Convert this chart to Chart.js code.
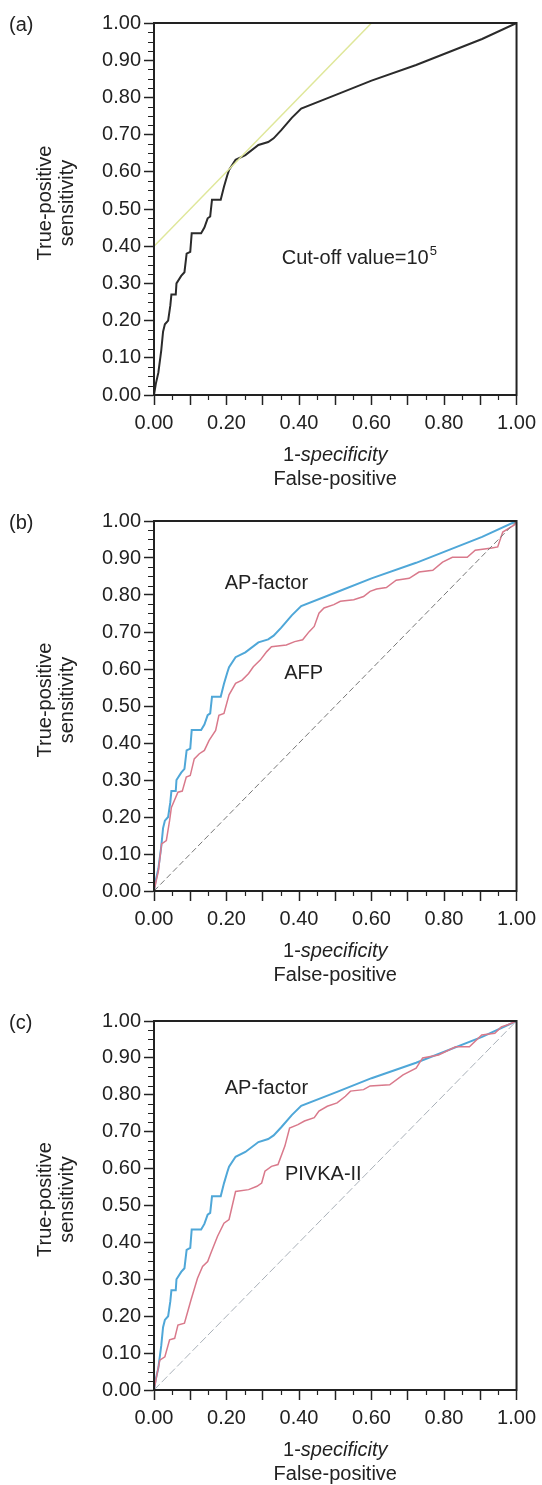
<!DOCTYPE html>
<html>
<head>
<meta charset="utf-8">
<title>ROC curves</title>
<script src="https://cdn.jsdelivr.net/npm/chart.js@4.4.0/dist/chart.umd.min.js"></script>
<style>
  html, body { margin: 0; padding: 0; background: #fff; }
  body { width: 542px; height: 1485px; position: relative; overflow: hidden; }
  canvas { position: absolute; left: 0; }
</style>
</head>
<body>
<canvas id="rocA" width="542" height="498" style="top:0px"></canvas>
<canvas id="rocB" width="542" height="498" style="top:498px"></canvas>
<canvas id="rocC" width="542" height="489" style="top:996px"></canvas>
<script>
// ***************************************************
// Data
// ***************************************************

var apFactorFpr = [0, 0.005, 0.012, 0.02, 0.025, 0.03, 0.039, 0.045, 0.048, 0.06, 0.062, 0.075, 0.084, 0.09, 0.1, 0.104, 0.13, 0.139, 0.148, 0.155, 0.16, 0.184, 0.193, 0.202, 0.207, 0.225, 0.252, 0.288, 0.315, 0.33, 0.351, 0.38, 0.406, 0.505, 0.6, 0.723, 0.905, 1];
var apFactorTpr = [0, 0.03, 0.06, 0.12, 0.17, 0.19, 0.2, 0.24, 0.27, 0.27, 0.3, 0.32, 0.33, 0.38, 0.385, 0.435, 0.435, 0.45, 0.475, 0.48, 0.525, 0.525, 0.56, 0.59, 0.605, 0.632, 0.645, 0.672, 0.68, 0.69, 0.712, 0.745, 0.77, 0.808, 0.845, 0.887, 0.957, 1];

var afpFpr = [0, 0.012, 0.021, 0.034, 0.043, 0.048, 0.066, 0.078, 0.089, 0.1, 0.111, 0.125, 0.139, 0.152, 0.17, 0.179, 0.193, 0.207, 0.225, 0.243, 0.261, 0.274, 0.293, 0.311, 0.324, 0.365, 0.388, 0.41, 0.428, 0.442, 0.455, 0.469, 0.496, 0.514, 0.551, 0.578, 0.596, 0.614, 0.641, 0.668, 0.704, 0.731, 0.769, 0.796, 0.823, 0.864, 0.886, 0.932, 0.948, 0.962, 0.995, 1];
var afpTpr = [0, 0.054, 0.127, 0.136, 0.19, 0.226, 0.267, 0.27, 0.308, 0.312, 0.357, 0.371, 0.38, 0.407, 0.434, 0.475, 0.48, 0.53, 0.561, 0.57, 0.588, 0.606, 0.624, 0.647, 0.66, 0.665, 0.674, 0.679, 0.701, 0.715, 0.751, 0.765, 0.774, 0.783, 0.787, 0.796, 0.81, 0.816, 0.82, 0.84, 0.845, 0.862, 0.867, 0.889, 0.902, 0.902, 0.921, 0.927, 0.93, 0.97, 0.99, 1];

var pivkaFpr = [0, 0.007, 0.016, 0.03, 0.043, 0.057, 0.066, 0.084, 0.102, 0.12, 0.134, 0.148, 0.157, 0.175, 0.193, 0.207, 0.225, 0.261, 0.284, 0.297, 0.306, 0.324, 0.342, 0.361, 0.374, 0.397, 0.415, 0.442, 0.455, 0.478, 0.505, 0.528, 0.542, 0.578, 0.596, 0.65, 0.687, 0.723, 0.741, 0.785, 0.832, 0.87, 0.904, 0.94, 0.958, 0.976, 1];
var pivkaTpr = [0, 0.036, 0.081, 0.09, 0.136, 0.14, 0.176, 0.181, 0.244, 0.303, 0.335, 0.348, 0.371, 0.416, 0.452, 0.462, 0.538, 0.543, 0.552, 0.561, 0.593, 0.606, 0.611, 0.661, 0.71, 0.719, 0.729, 0.738, 0.756, 0.769, 0.778, 0.796, 0.81, 0.814, 0.824, 0.827, 0.854, 0.872, 0.9, 0.908, 0.93, 0.93, 0.962, 0.967, 0.984, 0.99, 1];

// tangent line at the cut-off value and the chance diagonal
var cutoffLineX = [0, 0.6];
var cutoffLineY = [0.4, 1.0];
var diagonalX = [0, 1];
var diagonalY = [0, 1];

var axisMin = 0;
var axisMax = 1;
var majorStep = 0.1;

// ***************************************************
// Helpers
// ***************************************************

var FONT = '"Liberation Sans", Arial, Helvetica, sans-serif';
var INK = '#222';

function toPoints(xs, ys) {
  var pts = [];
  for (var i = 0; i < xs.length; i++) pts.push({ x: xs[i], y: ys[i] });
  return pts;
}

function series(xs, ys, color, width, dash) {
  return {
    data: toPoints(xs, ys),
    showLine: true,
    borderColor: color,
    borderWidth: width,
    borderDash: dash || [],
    pointRadius: 0,
    tension: 0,
    fill: false
  };
}

// frame, minor ticks, axis titles, panel letter and notes
var decorPlugin = {
  id: 'decor',
  afterDraw: function (chart, args, opts) {
    var ctx = chart.ctx;
    var area = chart.chartArea;
    var xs = chart.scales.x;
    var ys = chart.scales.y;
    var v, p;

    ctx.save();
    ctx.strokeStyle = INK;
    ctx.lineWidth = 2;
    ctx.strokeRect(area.left, area.top, area.right - area.left, area.bottom - area.top);

    // minor ticks
    ctx.lineWidth = 1.2;
    ctx.beginPath();
    for (v = 0.05; v < 1; v += 0.1) {
      p = Math.round(xs.getPixelForValue(v)) + 0.5;
      ctx.moveTo(p, area.bottom);
      ctx.lineTo(p, area.bottom + 5);
    }
    for (v = 0.025; v < 1; v += 0.025) {
      if (Math.abs(v * 10 - Math.round(v * 10)) < 0.01) continue;
      p = Math.round(ys.getPixelForValue(v)) + 0.5;
      ctx.moveTo(area.left - 6, p);
      ctx.lineTo(area.left, p);
    }
    ctx.stroke();

    ctx.fillStyle = INK;
    ctx.textBaseline = 'middle';

    // panel letter
    ctx.font = '20px ' + FONT;
    ctx.textAlign = 'left';
    ctx.fillText(opts.letter, 9, area.top + 2);

    // x title: "1-specificity" (italic word) / "False-positive"
    var cx = (area.left + area.right) / 2;
    ctx.font = '20px ' + FONT;
    var w1 = ctx.measureText('1-').width;
    ctx.font = 'italic 20px ' + FONT;
    var w2 = ctx.measureText('specificity').width;
    var sx = cx - (w1 + w2) / 2;
    ctx.textAlign = 'left';
    ctx.font = '20px ' + FONT;
    ctx.fillText('1-', sx, area.bottom + 60);
    ctx.font = 'italic 20px ' + FONT;
    ctx.fillText('specificity', sx + w1, area.bottom + 60);
    ctx.font = '20px ' + FONT;
    ctx.textAlign = 'center';
    ctx.fillText('False-positive', cx, area.bottom + 84);

    // y title, rotated
    var cy = (area.top + area.bottom) / 2 - 6;
    ctx.save();
    ctx.translate(45, cy);
    ctx.rotate(-Math.PI / 2);
    ctx.fillText('True-positive', 0, 0);
    ctx.fillText('sensitivity', 0, 22);
    ctx.restore();

    // notes placed in data units
    (opts.notes || []).forEach(function (n) {
      var nx = xs.getPixelForValue(n.x);
      var ny = ys.getPixelForValue(n.y);
      ctx.font = '20px ' + FONT;
      if (n.sup) {
        var wa = ctx.measureText(n.text).width;
        ctx.font = '13px ' + FONT;
        var wb = ctx.measureText(n.sup).width;
        var left = nx - (wa + wb) / 2;
        ctx.textAlign = 'left';
        ctx.font = '20px ' + FONT;
        ctx.fillText(n.text, left, ny);
        ctx.font = '13px ' + FONT;
        ctx.fillText(n.sup, left + wa + 1, ny - 7);
      } else {
        ctx.textAlign = 'center';
        ctx.fillText(n.text, nx, ny);
      }
    });
    ctx.restore();
  }
};

function makePanel(canvasId, opts) {
  var canvas = document.getElementById(canvasId);
  var h = canvas.height;

  return new Chart(canvas, {
    type: 'scatter',
    data: { datasets: opts.datasets },
    options: {
      responsive: false,
      animation: false,
      devicePixelRatio: 1,
      layout: { padding: { top: opts.plotTop, right: 20, left: 0, bottom: 0 } },
      plugins: {
        legend: { display: false },
        tooltip: { enabled: false },
        decor: { letter: opts.letter, notes: opts.notes }
      },
      scales: {
        x: {
          type: 'linear',
          min: axisMin,
          max: axisMax,
          afterFit: function (s) { s.height = h - opts.plotBottom; },
          ticks: {
            stepSize: majorStep,
            autoSkip: false,
            maxRotation: 0,
            padding: 6,
            color: INK,
            font: { family: FONT, size: 20 },
            callback: function (value, index) {
              return index % 2 === 0 ? value.toFixed(2) : '';
            }
          },
          grid: { drawOnChartArea: false, drawTicks: true, tickLength: 10, tickColor: INK, tickWidth: 1.5 },
          border: { display: true, color: INK, width: 2 }
        },
        y: {
          type: 'linear',
          min: axisMin,
          max: axisMax,
          afterFit: function (s) { s.width = 154; },
          ticks: {
            stepSize: majorStep,
            autoSkip: false,
            padding: 3,
            color: INK,
            font: { family: FONT, size: 20 },
            callback: function (value) { return value.toFixed(2); }
          },
          grid: { drawOnChartArea: false, drawTicks: true, tickLength: 10, tickColor: INK, tickWidth: 1.5 },
          border: { display: true, color: INK, width: 2 }
        }
      }
    },
    plugins: [decorPlugin]
  });
}

// ***************************************************
// Panels
// ***************************************************

makePanel('rocA', {
  letter: '(a)',
  plotTop: 23,
  plotBottom: 395,
  datasets: [
    series(cutoffLineX, cutoffLineY, '#dfe79a', 1.5),
    series(apFactorFpr, apFactorTpr, '#2b2b2b', 2)
  ],
  notes: [{ text: 'Cut-off value=10', sup: '5', x: 0.565, y: 0.368 }]
});

makePanel('rocB', {
  letter: '(b)',
  plotTop: 23,
  plotBottom: 393,
  datasets: [
    series(diagonalX, diagonalY, '#777', 1, [6, 3]),
    series(afpFpr, afpTpr, '#d9798b', 1.5),
    series(apFactorFpr, apFactorTpr, '#4fa7d8', 2)
  ],
  notes: [
    { text: 'AP-factor', x: 0.31, y: 0.832 },
    { text: 'AFP', x: 0.413, y: 0.589 }
  ]
});

makePanel('rocC', {
  letter: '(c)',
  plotTop: 25,
  plotBottom: 394,
  datasets: [
    series(diagonalX, diagonalY, '#a9b0b8', 1, [8, 3]),
    series(pivkaFpr, pivkaTpr, '#d9798b', 1.5),
    series(apFactorFpr, apFactorTpr, '#4fa7d8', 2)
  ],
  notes: [
    { text: 'AP-factor', x: 0.31, y: 0.818 },
    { text: 'PIVKA-II', x: 0.467, y: 0.583 }
  ]
});
</script>
</body>
</html>
